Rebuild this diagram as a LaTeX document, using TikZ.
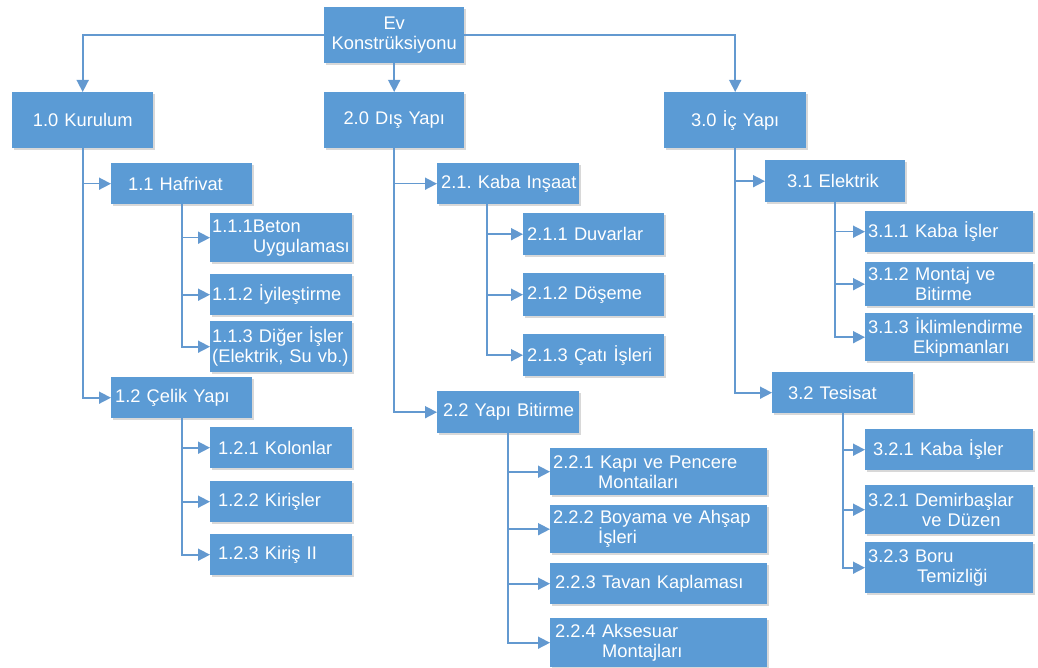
\documentclass[tikz,border=0pt]{standalone}
\usepackage{fontspec}
\setmainfont{Liberation Sans}
\frenchspacing
\usetikzlibrary{arrows.meta,shadows}
\definecolor{boxblue}{HTML}{5B9BD5}
\definecolor{lineblue}{HTML}{6399D0}
\begin{document}
\begin{tikzpicture}[x=1pt,y=-1pt,
  box/.style={draw=none, fill=boxblue, text=white, anchor=north west,
    inner xsep=0pt, inner ysep=0pt, align=left,
    font=\fontsize{18.3}{20}\selectfont,
    drop shadow={opacity=0.25, shadow xshift=1.5pt, shadow yshift=-1.5pt, fill=black!60}},
  cbox/.style={box, align=center},
  conn/.style={draw=lineblue, line width=1.6pt,
    -{Triangle[length=12pt,width=12pt]}}]
\useasboundingbox (0,0) rectangle (1038,668);
\fill[white] (0,0) rectangle (1038,668);

% level 0
\node[cbox, text width=140pt, minimum height=56pt] (root) at (324,7) {Ev\\Konstrüksiyonu};
% level 1
\node[cbox, text width=141pt, minimum height=56pt] (k10) at (12,92) {1.0 Kurulum};
\node[cbox, text width=140pt, minimum height=56pt] (k20) at (324,92) {2.0 Dış Yapı};
\node[cbox, text width=142pt, minimum height=56pt] (k30) at (664,92) {3.0 İç Yapı};

% branch 1
\node[box, text width=141pt, minimum height=41pt] (k11) at (111,163) {\hspace*{17pt}1.1 Hafrivat};
\node[box, text width=142pt, minimum height=49pt] (k111) at (210,213) {\hspace*{2pt}1.1.1Beton\\\hspace*{43pt}Uygulaması};
\node[box, text width=142pt, minimum height=41pt] (k112) at (210,274) {\hspace*{2pt}1.1.2 İyileştirme};
\node[box, text width=142pt, minimum height=51pt] (k113) at (210,321) {\hspace*{2pt}1.1.3 Diğer İşler\\\hspace*{2pt}(Elektrik, Su vb.)};
\node[box, text width=141pt, minimum height=41pt] (k12) at (111,377) {\hspace*{4pt}1.2 Çelik Yapı};
\node[box, text width=142pt, minimum height=41pt] (k121) at (210,427) {\hspace*{8pt}1.2.1 Kolonlar};
\node[box, text width=142pt, minimum height=41pt] (k122) at (210,481) {\hspace*{8pt}1.2.2 Kirişler};
\node[box, text width=142pt, minimum height=41pt] (k123) at (210,534) {\hspace*{8pt}1.2.3 Kiriş II};

% branch 2
\node[box, text width=142pt, minimum height=41pt] (k21) at (437,163) {\hspace*{4pt}2.1. Kaba Inşaat};
\node[box, text width=141pt, minimum height=42pt] (k211) at (523,213) {\hspace*{4pt}2.1.1 Duvarlar};
\node[box, text width=141pt, minimum height=43pt] (k212) at (523,273) {\hspace*{4pt}2.1.2 Döşeme};
\node[box, text width=141pt, minimum height=42pt] (k213) at (523,334) {\hspace*{4pt}2.1.3 Çatı İşleri};
\node[box, text width=142pt, minimum height=42pt] (k22) at (437,391) {\hspace*{6pt}2.2 Yapı Bitirme};
\node[box, text width=217pt, minimum height=47pt] (k221) at (550,448) {\hspace*{3pt}2.2.1 Kapı ve Pencere\\\hspace*{48pt}Montaiları};
\node[box, text width=217pt, minimum height=48pt] (k222) at (550,505) {\hspace*{3pt}2.2.2 Boyama ve Ahşap\\\hspace*{48pt}İşleri};
\node[box, text width=217pt, minimum height=41pt] (k223) at (550,563) {\hspace*{5pt}2.2.3 Tavan Kaplaması};
\node[box, text width=217pt, minimum height=49pt] (k224) at (550,618) {\hspace*{5pt}2.2.4 Aksesuar\\\hspace*{52pt}Montajları};

% branch 3
\node[box, text width=140pt, minimum height=42pt] (k31) at (765,160) {\hspace*{22pt}3.1 Elektrik};
\node[box, text width=168pt, minimum height=41pt] (k311) at (865,211) {\hspace*{3pt}3.1.1 Kaba İşler};
\node[box, text width=168pt, minimum height=44pt] (k312) at (865,262) {\hspace*{3pt}3.1.2 Montaj ve\\\hspace*{50pt}Bitirme};
\node[box, text width=168pt, minimum height=48pt] (k313) at (865,313) {\hspace*{3pt}3.1.3 İklimlendirme\\\hspace*{48pt}Ekipmanları};
\node[box, text width=141pt, minimum height=41pt] (k32) at (772,372) {\hspace*{16pt}3.2 Tesisat};
\node[box, text width=168pt, minimum height=41pt] (k321) at (865,429) {\hspace*{8pt}3.2.1 Kaba İşler};
\node[box, text width=168pt, minimum height=49pt] (k322) at (865,485) {\hspace*{3pt}3.2.1 Demirbaşlar\\\hspace*{57pt}ve Düzen};
\node[box, text width=168pt, minimum height=51pt] (k323) at (865,542) {\hspace*{3pt}3.2.3 Boru\\\hspace*{52pt}Temizliği};

% connectors
\draw[conn] (root.west) -| (k10.north);
\draw[conn] (root.south) -- (k20.north);
\draw[conn] (root.east) -| (k30.north);

\draw[conn] (k10.south) |- (k11.west);
\draw[conn] (k10.south) |- (k12.west);
\draw[conn] (k11.south) |- (k111.west);
\draw[conn] (k11.south) |- (k112.west);
\draw[conn] (k11.south) |- (k113.west);
\draw[conn] (k12.south) |- (k121.west);
\draw[conn] (k12.south) |- (k122.west);
\draw[conn] (k12.south) |- (k123.west);

\draw[conn] (k20.south) |- (k21.west);
\draw[conn] (k20.south) |- (k22.west);
\draw[conn] ([xshift=-21pt]k21.south) |- (k211.west);
\draw[conn] ([xshift=-21pt]k21.south) |- (k212.west);
\draw[conn] ([xshift=-21pt]k21.south) |- (k213.west);
\draw[conn] (k22.south) |- (k221.west);
\draw[conn] (k22.south) |- (k222.west);
\draw[conn] (k22.south) |- (k223.west);
\draw[conn] (k22.south) |- (k224.west);

\draw[conn] (k30.south) |- (k31.west);
\draw[conn] (k30.south) |- (k32.west);
\draw[conn] (k31.south) |- (k311.west);
\draw[conn] (k31.south) |- (k312.west);
\draw[conn] (k31.south) |- (k313.west);
\draw[conn] (k32.south) |- (k321.west);
\draw[conn] (k32.south) |- (k322.west);
\draw[conn] (k32.south) |- (k323.west);
\end{tikzpicture}
\end{document}
